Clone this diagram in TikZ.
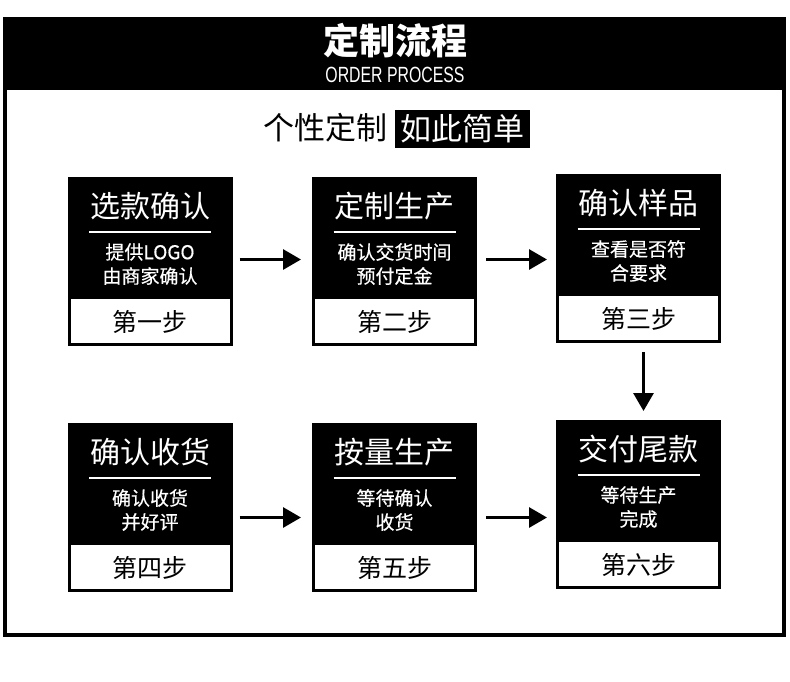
\documentclass[tikz,border=0pt]{standalone}
\usepackage{fontspec}
\usepackage{graphicx}
\usetikzlibrary{arrows.meta,calc}
\newfontfamily\cjk{Noto Sans CJK SC}
\newfontfamily\cjkfb[FakeBold=0.5]{Noto Sans CJK SC}
\newfontfamily\latinsans{Liberation Sans}
\tikzset{
  cardbox/.style={draw=black, line width=3pt, fill=white, inner sep=0pt,
    minimum width=162pt, minimum height=166pt},
  titletext/.style={text=white, font=\cjk\fontsize{30}{32}\selectfont, inner sep=0pt},
  subtext/.style={text=white, font=\cjkfb\fontsize{19}{21}\selectfont, inner sep=0pt},
  steptext/.style={text=black, font=\cjk\fontsize{25}{27}\selectfont, inner sep=0pt},
  divider/.style={draw=white, line width=1.2pt},
  arr/.style={line width=3pt, -{Triangle[length=18pt,width=20pt]}},
}
\newcommand\card[7]{%
  \node[cardbox, anchor=north] (#1) at (#2,#3) {};
  \fill[black] (#1.north west) rectangle ([yshift=-122pt]#1.north east);
  \node[titletext] (#1t) at ([yshift=-29pt]#1.north) {#4};
  \draw[divider] ([xshift=-61pt,yshift=-55pt]#1.north) -- ([xshift=61pt,yshift=-55pt]#1.north);
  \node[subtext] (#1a) at ([yshift=-75pt]#1.north) {#5};
  \node[subtext] (#1b) at ([yshift=-99pt]#1.north) {#6};
  \node[steptext] (#1s) at ([yshift=-145pt]#1.north) {#7};
}
\begin{document}
\begin{tikzpicture}[x=1pt,y=-1pt]
\useasboundingbox (0,0) rectangle (790,682);
% frame
\fill[black] (3,17) rectangle (786,90);
\draw[line width=4pt] (5,88) -- (5,635) -- (784,635) -- (784,88);
\node[text=white, font=\cjk\bfseries\fontsize{36}{38}\selectfont, inner sep=0pt] (title) at (395,41) {定制流程};
\node[text=white, font=\latinsans\fontsize{22}{24}\selectfont, inner sep=0pt] (subtitle) at (395,75) {\scalebox{0.72}[1]{ORDER PROCESS}};
% slogan
\node[font=\cjk\fontsize{31}{33}\selectfont, inner sep=0pt, anchor=east] (slogan1) at (388,128) {个性定制};
\node[fill=black, text=white, font=\cjk\fontsize{31}{33}\selectfont, inner sep=0pt,
  minimum width=135pt, minimum height=38pt] (slogan2) at (462,129) {如此简单};
% cards
\card{b1}{150}{177}{选款确认}{提供LOGO}{由商家确认}{第一步}
\card{b2}{394.5}{177}{定制生产}{确认交货时间}{预付定金}{第二步}
\card{b3}{638.5}{174}{确认样品}{查看是否符}{合要求}{第三步}
\card{b4}{150}{423}{确认收货}{确认收货}{并好评}{第四步}
\card{b5}{394.5}{423}{按量生产}{等待确认}{收货}{第五步}
\card{b6}{638.5}{420}{交付尾款}{等待生产}{完成}{第六步}
% arrows
\draw[arr, shorten <=7pt, shorten >=11pt] ([yshift=2pt]b1.east) -- ([yshift=2pt]b2.west);
\draw[arr, shorten <=9pt, shorten >=9pt] ([yshift=2pt]b2.east) -- ([yshift=2pt]b2.east -| b3.west);
\draw[arr, shorten <=9pt, shorten >=9pt] ([xshift=5pt]b3.south) -- ([xshift=5pt]b6.north);
\draw[arr, shorten <=7pt, shorten >=11pt] ([yshift=-10pt]b4.east) -- ([yshift=-10pt]b5.west);
\draw[arr, shorten <=9pt, shorten >=9pt] ([yshift=-10pt]b5.east) -- ([yshift=-10pt]b5.east -| b6.west);
\end{tikzpicture}
\end{document}
